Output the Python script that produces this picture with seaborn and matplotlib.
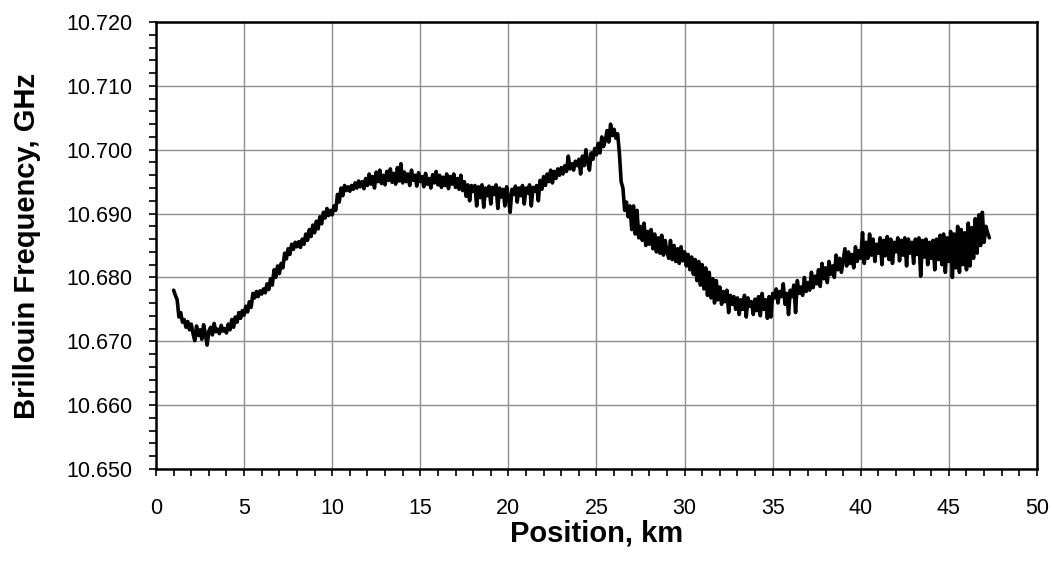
import numpy as np
import matplotlib
matplotlib.use("Agg")
import matplotlib.pyplot as plt
from matplotlib.ticker import MultipleLocator, FormatStrFormatter
import seaborn as sns
import pandas as pd

# Brillouin frequency shift along the fibre, every 0.1 km
start_km = 1.0
end_km = 47.3
freq_ghz = [
    # 1 km
    10.6780, 10.6772, 10.6765, 10.6738, 10.6745, 10.6730, 10.6734, 10.6722, 10.6731, 10.6718,
    # 2 km
    10.6727, 10.6712, 10.6701, 10.6724, 10.6709, 10.6718, 10.6703, 10.6726, 10.6712, 10.6694,
    # 3 km
    10.6716, 10.6722, 10.6710, 10.6728, 10.6715, 10.6719, 10.6712, 10.6725, 10.6716, 10.6720,
    # 4 km
    10.6713, 10.6727, 10.6718, 10.6734, 10.6722, 10.6738, 10.6730, 10.6745, 10.6736, 10.6748,
    # 5 km
    10.6741, 10.6755, 10.6746, 10.6762, 10.6753, 10.6775, 10.6768, 10.6778, 10.6770, 10.6779,
    # 6 km
    10.6774, 10.6782, 10.6776, 10.6790, 10.6781, 10.6798, 10.6788, 10.6812, 10.6800, 10.6818,
    # 7 km
    10.6806, 10.6822, 10.6815, 10.6838, 10.6829, 10.6845, 10.6836, 10.6852, 10.6844, 10.6855,
    # 8 km
    10.6848, 10.6856, 10.6847, 10.6860, 10.6852, 10.6868, 10.6858, 10.6875, 10.6864, 10.6882,
    # 9 km
    10.6870, 10.6888, 10.6876, 10.6895, 10.6884, 10.6902, 10.6893, 10.6908, 10.6897, 10.6905,
    # 10 km
    10.6898, 10.6912, 10.6905, 10.6930, 10.6918, 10.6940, 10.6928, 10.6944, 10.6936, 10.6942,
    # 11 km
    10.6935, 10.6944, 10.6938, 10.6948, 10.6940, 10.6951, 10.6942, 10.6950, 10.6939, 10.6955,
    # 12 km
    10.6944, 10.6962, 10.6946, 10.6958, 10.6940, 10.6965, 10.6950, 10.6968, 10.6947, 10.6960,
    # 13 km
    10.6945, 10.6966, 10.6952, 10.6970, 10.6949, 10.6963, 10.6946, 10.6972, 10.6951, 10.6978,
    # 14 km
    10.6948, 10.6965, 10.6950, 10.6962, 10.6944, 10.6968, 10.6952, 10.6960, 10.6943, 10.6964,
    # 15 km
    10.6950, 10.6958, 10.6942, 10.6963, 10.6946, 10.6955, 10.6940, 10.6961, 10.6948, 10.6966,
    # 16 km
    10.6945, 10.6960, 10.6941, 10.6957, 10.6944, 10.6962, 10.6939, 10.6958, 10.6946, 10.6962,
    # 17 km
    10.6941, 10.6955, 10.6938, 10.6960, 10.6936, 10.6950, 10.6927, 10.6945, 10.6920, 10.6944,
    # 18 km
    10.6935, 10.6944, 10.6912, 10.6942, 10.6925, 10.6945, 10.6910, 10.6940, 10.6928, 10.6943,
    # 19 km
    10.6915, 10.6941, 10.6930, 10.6945, 10.6908, 10.6940, 10.6926, 10.6938, 10.6912, 10.6942,
    # 20 km
    10.6925, 10.6902, 10.6938, 10.6930, 10.6943, 10.6918, 10.6940, 10.6928, 10.6944, 10.6915,
    # 21 km
    10.6940, 10.6932, 10.6945, 10.6912, 10.6941, 10.6935, 10.6944, 10.6920, 10.6952, 10.6938,
    # 22 km
    10.6958, 10.6944, 10.6962, 10.6950, 10.6968, 10.6948, 10.6966, 10.6955, 10.6970, 10.6960,
    # 23 km
    10.6972, 10.6962, 10.6975, 10.6966, 10.6990, 10.6970, 10.6978, 10.6968, 10.6982, 10.6975,
    # 24 km
    10.6985, 10.6962, 10.6990, 10.6975, 10.7000, 10.6980, 10.6968, 10.6995, 10.6985, 10.7002,
    # 25 km
    10.6992, 10.7010, 10.6995, 10.7020, 10.7005, 10.7015, 10.7030, 10.7012, 10.7040, 10.7022,
    # 26 km
    10.7032, 10.7018, 10.7025, 10.6995, 10.6950, 10.6940, 10.6905, 10.6918, 10.6895, 10.6912,
    # 27 km
    10.6875, 10.6912, 10.6868, 10.6905, 10.6862, 10.6880, 10.6858, 10.6885, 10.6850, 10.6872,
    # 28 km
    10.6852, 10.6875, 10.6845, 10.6868, 10.6840, 10.6862, 10.6838, 10.6866, 10.6835, 10.6858,
    # 29 km
    10.6840, 10.6830, 10.6858, 10.6828, 10.6850, 10.6825, 10.6845, 10.6822, 10.6848, 10.6826,
    # 30 km
    10.6840, 10.6818, 10.6836, 10.6812, 10.6832, 10.6805, 10.6828, 10.6795, 10.6825, 10.6788,
    # 31 km
    10.6820, 10.6782, 10.6815, 10.6772, 10.6808, 10.6768, 10.6798, 10.6760, 10.6795, 10.6765,
    # 32 km
    10.6785, 10.6758, 10.6778, 10.6762, 10.6780, 10.6745, 10.6772, 10.6758, 10.6770, 10.6750,
    # 33 km
    10.6768, 10.6742, 10.6765, 10.6750, 10.6772, 10.6738, 10.6768, 10.6755, 10.6762, 10.6742,
    # 34 km
    10.6766, 10.6748, 10.6770, 10.6740, 10.6775, 10.6750, 10.6765, 10.6736, 10.6770, 10.6738,
    # 35 km
    10.6775, 10.6768, 10.6782, 10.6760, 10.6778, 10.6770, 10.6790, 10.6758, 10.6775, 10.6742,
    # 36 km
    10.6780, 10.6770, 10.6788, 10.6745, 10.6795, 10.6775, 10.6785, 10.6772, 10.6800, 10.6778,
    # 37 km
    10.6792, 10.6780, 10.6808, 10.6784, 10.6802, 10.6790, 10.6812, 10.6786, 10.6822, 10.6798,
    # 38 km
    10.6815, 10.6792, 10.6825, 10.6805, 10.6818, 10.6800, 10.6835, 10.6812, 10.6830, 10.6808,
    # 39 km
    10.6826, 10.6845, 10.6818, 10.6840, 10.6822, 10.6836, 10.6815, 10.6848, 10.6825, 10.6842,
    # 40 km
    10.6830, 10.6870, 10.6822, 10.6855, 10.6830, 10.6868, 10.6835, 10.6860, 10.6825, 10.6852,
    # 41 km
    10.6838, 10.6862, 10.6820, 10.6858, 10.6834, 10.6864, 10.6828, 10.6860, 10.6822, 10.6855,
    # 42 km
    10.6840, 10.6862, 10.6826, 10.6858, 10.6835, 10.6862, 10.6818, 10.6860, 10.6838, 10.6855,
    # 43 km
    10.6822, 10.6860, 10.6836, 10.6862, 10.6802, 10.6858, 10.6832, 10.6860, 10.6820, 10.6855,
    # 44 km
    10.6830, 10.6858, 10.6812, 10.6860, 10.6828, 10.6866, 10.6820, 10.6868, 10.6808, 10.6862,
    # 45 km
    10.6825, 10.6872, 10.6800, 10.6868, 10.6815, 10.6880, 10.6808, 10.6875, 10.6820, 10.6870,
    # 46 km
    10.6812, 10.6885, 10.6818, 10.6878, 10.6830, 10.6892, 10.6838, 10.6898, 10.6850, 10.6902,
    # 47 km
    10.6855, 10.6880, 10.6870, 10.6862,
]

position_km = np.linspace(start_km, end_km, len(freq_ghz))
df = pd.DataFrame({"Position": position_km, "Freq": freq_ghz})

sns.set_theme(style="white")
plt.rcParams["font.family"] = ["Liberation Sans", "DejaVu Sans"]
plt.rcParams["text.color"] = "black"
plt.rcParams["axes.labelcolor"] = "black"
plt.rcParams["xtick.color"] = "black"
plt.rcParams["ytick.color"] = "black"

fig = plt.figure(figsize=(10.52, 5.67), dpi=100)
ax = fig.add_axes([0.1483, 0.1728, 0.8374, 0.7884])

sns.lineplot(data=df, x="Position", y="Freq", color="black", linewidth=2.6, ax=ax)

ax.set_xlim(0, 50)
ax.set_ylim(10.650, 10.720)
ax.xaxis.set_major_locator(MultipleLocator(5))
ax.xaxis.set_minor_locator(MultipleLocator(1))
ax.yaxis.set_major_locator(MultipleLocator(0.010))
ax.yaxis.set_minor_locator(MultipleLocator(0.002))
ax.yaxis.set_major_formatter(FormatStrFormatter("%.3f"))

ax.grid(True, which="major", color="#8f8f8f", linewidth=1.0)
ax.set_axisbelow(True)

for side in ["left", "right", "top", "bottom"]:
    ax.spines[side].set_visible(True)
    ax.spines[side].set_color("black")
    ax.spines[side].set_linewidth(1.8)

ax.tick_params(axis="x", which="both", direction="out", length=5, width=1.2,
               color="black", labelcolor="black", bottom=True, labelsize=15.5, pad=16)
ax.tick_params(axis="y", which="both", direction="out", length=5, width=1.2,
               color="black", labelcolor="black", left=True, labelsize=15.5, pad=12)

ax.set_xlabel("Position, km", fontsize=21, fontweight="bold", labelpad=0, color="black")
ax.set_ylabel("Brillouin Frequency, GHz", fontsize=21, fontweight="bold", labelpad=18, color="black")

fig.savefig("out.png", dpi=100)
